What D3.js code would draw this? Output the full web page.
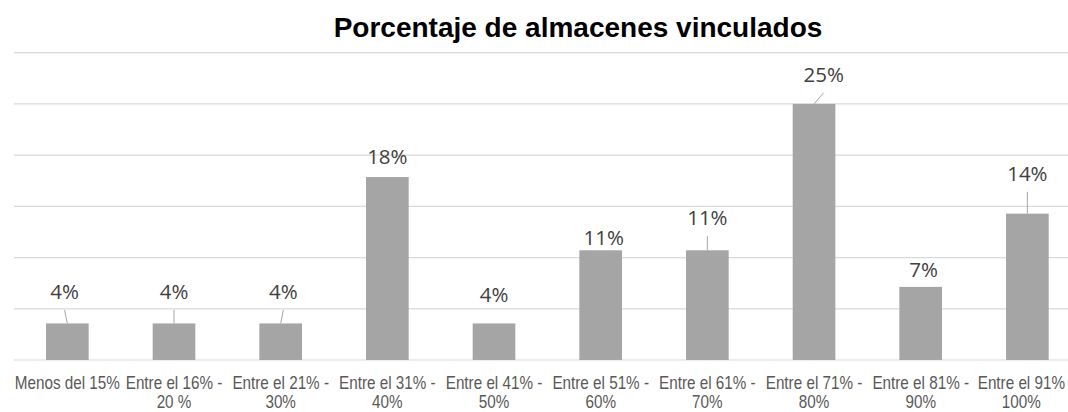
<!DOCTYPE html>
<html>
<head>
<meta charset="utf-8">
<script src="https://cdn.jsdelivr.net/npm/d3@7"></script>
<style>
  html, body { margin: 0; padding: 0; background: #fff; }
  svg { display: block; }
</style>
</head>
<body>
<svg id="chart" width="1068" height="412"></svg>
<script>
// ---- data ----
const categories = [
  ["Menos del 15%"],
  ["Entre el 16% -", "20 %"],
  ["Entre el 21% -", "30%"],
  ["Entre el 31% -", "40%"],
  ["Entre el 41% -", "50%"],
  ["Entre el 51% -", "60%"],
  ["Entre el 61% -", "70%"],
  ["Entre el 71% -", "80%"],
  ["Entre el 81% -", "90%"],
  ["Entre el 91%", "100%"]
];
const values = [3.57, 3.57, 3.57, 17.86, 3.57, 10.71, 10.71, 25.0, 7.14, 14.29];
const valueLabels = ["4%", "4%", "4%", "18%", "4%", "11%", "11%", "25%", "7%", "14%"];
const gridTicks = [0, 5, 10, 15, 20, 25, 30];
const title = "Porcentaje de almacenes vinculados";

// label displacement (px) relative to default outside-end position, and leader lines
const labelDx = [-2.8, 0, 2.7, 0, 0, 3, 0, 9.7, 2.8, 0];
const labelDy = [-19.3, -19.3, -19.3, -8.3, -16.9, 0, -20, -17, -5.3, -27.6];
const leader  = [true, true, true, false, false, false, true, true, false, true];

(function () {
// ---- layout ----
const W = 1068;
const svg = d3.select("#chart");
const pLeft = 14, pRight = 1080.7, pTop = 52.7, pBottom = 360;

const x = d3.scaleBand()
  .domain(d3.range(categories.length))
  .range([pLeft, pRight])
  .paddingInner(0.6)
  .paddingOuter(0.3);

const y = d3.scaleLinear().domain([0, 30]).range([pBottom, pTop]);

// gridlines
svg.append("g").selectAll("line")
  .data(gridTicks)
  .join("line")
  .attr("x1", pLeft).attr("x2", W)
  .attr("y1", d => y(d)).attr("y2", d => y(d))
  .attr("stroke", "#d9d9d9")
  .attr("stroke-width", 1.2);

// bars
svg.append("g").selectAll("rect")
  .data(values)
  .join("rect")
  .attr("x", (d, i) => x(i))
  .attr("width", x.bandwidth())
  .attr("y", d => y(d))
  .attr("height", d => y(0) - y(d))
  .attr("fill", "#a5a5a5");

// data labels
const cx = i => x(i) + x.bandwidth() / 2;
const lx = i => cx(i) + labelDx[i];
const ly = (d, i) => y(d) - 5 + labelDy[i];

svg.append("g").selectAll("line")
  .data(values.map((d, i) => ({ d, i })).filter(o => leader[o.i]))
  .join("line")
  .attr("x1", o => lx(o.i))
  .attr("y1", o => ly(o.d, o.i) + 10.8)
  .attr("x2", o => cx(o.i))
  .attr("y2", o => y(o.d))
  .attr("stroke", "#a6a6a6")
  .attr("stroke-width", 1);

svg.append("g").selectAll("text")
  .data(values)
  .join("text")
  .attr("x", (d, i) => lx(i))
  .attr("y", (d, i) => ly(d, i))
  .attr("text-anchor", "middle")
  .attr("font-family", "'Open Sans', sans-serif")
  .attr("font-size", 20.5)
  .attr("fill", "#404040")
  .text((d, i) => valueLabels[i]);

// category axis labels (condensed look via horizontal scale)
const sx = 0.82;
const catG = svg.append("g").selectAll("g")
  .data(categories)
  .join("g")
  .attr("transform", (d, i) => `translate(${cx(i)},0) scale(${sx},1)`);
const cat = catG.append("text")
  .attr("x", 0)
  .attr("y", 389.2)
  .attr("text-anchor", "middle")
  .attr("font-family", "'Liberation Sans', Arial, sans-serif")
  .attr("font-size", 18.6)
  .attr("fill", "#595959");
cat.selectAll("tspan")
  .data(d => d)
  .join("tspan")
  .attr("x", 0)
  .attr("dy", (d, j) => j === 0 ? 0 : 18.8)
  .text(d => d);

// keep labels inside the chart area, as the original does
catG.each(function (d, i) {
  const bb = this.querySelector("text").getBBox();
  const halfW = bb.width * sx / 2;
  let c = cx(i);
  if (c + halfW > W - 3) c = W - 3 - halfW;
  d3.select(this).attr("transform", `translate(${c},0) scale(${sx},1)`);
});

// title
svg.append("text")
  .attr("x", 578)
  .attr("y", 37.3)
  .attr("text-anchor", "middle")
  .attr("font-family", "'Liberation Sans', Arial, sans-serif")
  .attr("font-weight", "bold")
  .attr("font-size", 28)
  .attr("fill", "#000")
  .text(title);
})();
</script>
</body>
</html>
